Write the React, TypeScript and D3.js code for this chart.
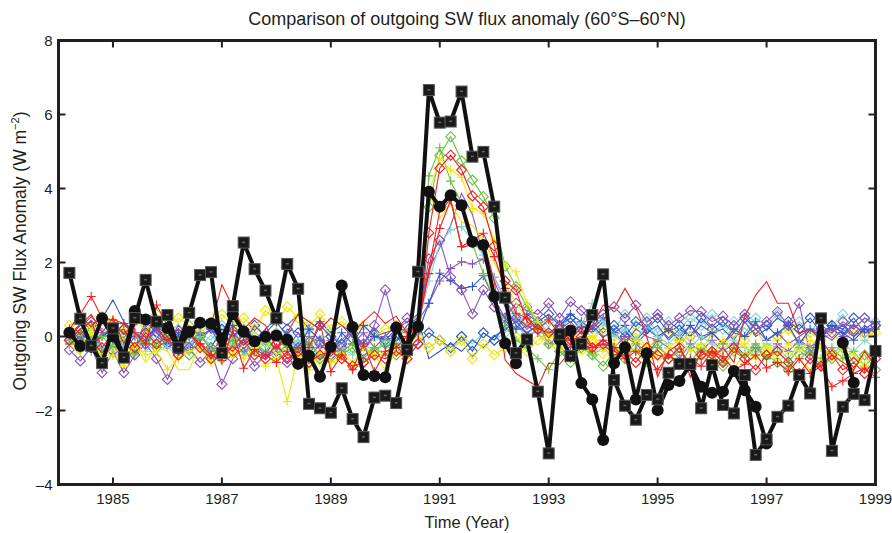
import * as d3 from 'd3';
import { useEffect, useRef } from 'react';

// 72-day means, first sample at 1984.2, one every 0.2 yr
const START_YEAR = 1984.2;
const STEP_YEARS = 0.2;

const xTickYears = [1985, 1987, 1989, 1991, 1993, 1995, 1997, 1999];
const yTickValues = [-4, -2, 0, 2, 4, 6, 8];

// ERBS nonscanner (black squares)
const erbsValues: (number | null)[] = [
  1.72, 0.48, -0.25, -0.72, 0.22,
  -0.57, 0.5, 1.53, 0.4, 0.58,
  -0.3, 0.64, 1.66, 1.74, -0.45,
  0.82, 2.54, 1.82, 1.24, 0.49,
  1.96, 1.29, -1.82, -1.94, -2.06,
  -1.4, -2.23, -2.72, -1.65, -1.6,
  -1.8, -0.36, 1.75, 6.66, 5.78,
  5.81, 6.62, 4.86, 4.99, 3.51,
  1.05, -0.45, -0.08, -1.49, -3.16,
  0.06, -0.53, -0.2, 0.58, 1.68,
  -1.18, -1.87, -2.25, -1.58, -1.7,
  -0.98, -0.74, -0.74, -1.94, -0.77,
  -1.85, -2.08, -1.04, -3.2, -2.78,
  -2.17, -1.87, -1.04, -1.54, 0.49,
  -3.09, -1.9, -1.55, -1.72, -0.39,
];

// second observational record (black circles)
const circleValues: (number | null)[] = [
  0.1, -0.26, -0.28, 0.49, 0.0,
  -0.55, 0.69, 0.46, 0.4, 0.23,
  -0.32, 0.13, 0.37, 0.35, -0.05,
  0.6, 0.13, -0.13, -0.01, 0.03,
  -0.09, -0.74, -0.52, -1.09, -0.28,
  1.38, 0.26, -1.04, -1.07, -1.1,
  0.24, -0.3, 0.27, 3.91, 3.51,
  3.82, 3.55, 2.56, 2.47, 1.08,
  -0.18, -0.72, null, null, null,
  -0.09, 0.16, -1.26, -1.7, -2.8,
  -0.72, -0.29, -1.7, -0.45, -1.99,
  -1.31, -1.2, -0.77, -1.36, -1.52,
  -1.49, -0.93, -1.45, -1.9, -2.89,
  null, null, null, null, null,
  null, -0.17, -1.25, null, null,
];

const redPlus = [
  0.2, 0.6, 1.08, 0.5, 0.45,
  0.35, 0.1, -0.2, 0.85, 0.3,
  -0.3, 0.1, -0.2, -0.5, -0.65,
  0.15, -0.86, -0.35, -0.5, -0.7,
  -0.4, -0.75, -0.3, 0.4, -0.95,
  -0.5, -0.9, -0.2, -0.95, -0.4,
  -0.3, 0.0, 0.35, 1.7, 2.92,
  3.69, 2.43, 2.6, 2.79, 2.16,
  1.3, 0.63, 0.5, 0.2, 0.45,
  0.05, -0.1, 0.25, -0.3, -0.1,
  -0.3, -0.6, -0.4, -0.55, -0.9,
  -0.5, -0.7, -0.6, -0.8, -0.4,
  -0.55, -0.9, -0.75, -0.5, -0.85,
  -0.7, -0.95, -0.6, -1.0, -0.8,
  -1.36, -1.2, -1.0, -0.85, -1.1,
];

const redDiamond = [
  -0.1, 0.2, 0.4, -0.3, 0.1,
  0.2, -0.3, 0.1, -0.2, 0.0,
  -0.5, 0.1, -0.3, -0.6, -0.2,
  -0.4, -0.1, -0.5, -0.6, -0.2,
  -0.6, -0.4, -0.7, -0.5, -0.4,
  -0.6, -0.8, -0.7, -0.5, -0.6,
  -0.4, -0.6, -0.2, 2.8, 4.55,
  4.9, 4.5, 3.8, 3.5, 2.45,
  1.5, 1.26, 0.4, 0.2, 0.1,
  0.2, -0.1, 0.0, -0.3, -0.2,
  -0.5, -0.4, -0.7, -0.3, -0.5,
  -0.6, -0.3, -0.8, -0.5, -0.4,
  -0.7, -0.3, -0.6, -0.9, -0.5,
  -0.4, -0.7, -1.0, -0.6, -0.8,
  -0.5, -0.9, -0.7, -1.0, -0.6,
];

const redLine = [
  0.0, 0.3, 0.6, 0.1, 0.5,
  -0.2, 0.3, 0.5, 0.2, -0.1,
  0.2, 0.0, 0.5, 0.3, 1.4,
  0.8, 0.2, 0.5, 0.3, -0.3,
  0.1, 0.6, 0.4, 0.2, 0.5,
  0.3, 0.1, 0.4, 0.67, 0.35,
  0.55, 0.1, 0.2, 1.8, 3.4,
  3.7, 2.4, 2.5, 2.6, 1.5,
  -0.63, -1.0, -1.18, -1.36, -0.72,
  -0.75, -0.4, -0.2, 0.3, 0.85,
  0.76, 1.3, 0.8, 0.0, -1.09,
  -0.4, -0.2, -1.1, -0.4, -0.6,
  -0.3, -0.7, 0.54, 1.12, 1.48,
  0.9, 0.9, 0.09, 0.2, -0.1,
  -0.5, -0.7, -0.9, -0.4, -0.8,
];

const bluePlus = [
  -0.1, 0.1, -0.2, 0.0, 0.2,
  -0.3, 0.1, -0.1, 0.3, -0.2,
  0.1, -0.3, 0.0, 0.2, -0.1,
  0.3, 0.0, -0.2, 0.1, 0.4,
  0.0, -0.3, 0.2, -0.1, -0.4,
  0.1, -0.2, 0.3, 0.0, -0.1,
  0.2, -0.3, 0.1, 0.9, 1.71,
  1.51, 1.3, 1.35, 1.64, 1.0,
  0.5, 0.2, 0.6, 0.4, 0.1,
  0.3, 0.6, 0.4, 0.2, 0.5,
  0.1, 0.3, -0.1, 0.2, 0.0,
  0.2, -0.1, 0.3, 0.0, 0.1,
  -0.2, 0.2, 0.0, 0.4, -0.1,
  0.1, 0.3, -0.2, 0.2, 0.0,
  0.3, 0.1, -0.1, 0.2, 0.4,
];

const blueDiamond = [
  0.1, -0.2, 0.3, -0.4, 0.0,
  0.2, -0.3, 0.4, 0.1, -0.2,
  -0.1, 0.3, 0.0, -0.3, 0.2,
  0.1, -0.2, 0.3, 0.0, -0.4,
  0.2, 0.1, -0.3, 0.3, 0.0,
  -0.2, 0.2, -0.4, 0.1, -0.1,
  0.0, -0.3, -0.2, 0.1, -0.1,
  -0.3, 0.0, -0.4, 0.1, -0.1,
  0.3, 0.5, 0.2, 0.4, 0.6,
  0.3, 0.5, 0.2, 0.4, 0.1,
  0.3, 0.0, 0.4, 0.2, 0.5,
  0.1, 0.3, 0.0, 0.5, 0.2,
  0.4, 0.1, 0.5, 0.2, 0.3,
  0.0, 0.4, 0.2, 0.5, 0.1,
  0.3, 0.2, 0.5, 0.1, 0.3,
];

const blueLine = [
  0.2, -0.1, 0.3, 0.5, 0.99,
  0.4, 0.1, -0.2, 0.3, 0.0,
  0.2, -0.1, 0.4, 0.1, 0.2,
  0.0, 0.3, -0.1, 0.2, 0.5,
  0.3, 0.6, 0.2, 0.4, 0.1,
  0.3, 0.0, -0.2, 0.2, -0.3,
  -0.1, 0.3, 0.5, -0.6, -0.4,
  -0.2, -0.4, -0.1, -0.3, 0.0,
  0.2, 0.4, 0.1, 0.3, 0.0,
  0.2, -0.1, 0.3, 0.1, 0.4,
  0.0, 0.2, -0.2, 0.1, 0.3,
  -0.1, 0.2, 0.0, 0.3, 0.1,
  0.2, -0.1, 0.4, 0.0, 0.2,
  0.5, 0.3, 0.1, 0.2, -0.1,
  0.1, 0.3, 0.0, 0.2, 0.1,
];

const greenPlus = [
  -0.2, 0.1, -0.4, 0.0, -0.3,
  -0.1, -0.5, 0.2, -0.3, -0.1,
  -0.4, 0.0, -0.2, -0.6, -0.3,
  -0.1, -0.5, -0.2, -0.4, 0.0,
  -0.3, -0.6, -0.2, -0.5, -0.7,
  -0.4, -0.2, -0.6, -0.3, -0.5,
  -0.2, -0.4, 0.5, 4.34, 5.1,
  4.2, 3.6, 2.5, 1.7, 1.0,
  0.3, -0.1, -0.3, -0.6, -0.9,
  -0.4, -0.6, -0.2, -0.5, -0.3,
  -0.6, -0.2, -0.4, -0.7, -0.3,
  -0.5, -0.8, -0.3, -0.6, -0.4,
  -0.7, -0.3, -0.5, -0.2, -0.6,
  -0.4, -0.7, -0.3, -0.5, -0.6,
  -0.3, -0.6, -0.4, -0.8, -0.5,
];

const greenDiamond = [
  -0.1, -0.3, 0.1, -0.5, -0.2,
  0.0, -0.4, -0.1, -0.3, 0.1,
  -0.2, -0.5, 0.0, -0.3, -0.6,
  -0.2, 0.1, -0.4, -0.1, -0.5,
  -0.2, -0.4, -0.1, -0.6, -0.3,
  -0.5, -0.3, -0.7, -0.4, -0.2,
  -0.5, -0.3, 0.2, 3.5, 4.9,
  5.4, 4.75, 4.23, 3.78, 3.2,
  1.9, 1.35, 0.8, 0.3, -0.2,
  -0.4, -0.7, -0.3, -0.5, -0.8,
  -0.4, -0.6, -0.3, -0.5, -0.2,
  -0.6, -0.4, -0.7, -0.3, -0.5,
  -0.8, -0.4, -0.6, -0.3, -0.5,
  -0.7, -0.9, -0.5, -0.4, -0.8,
  -0.6, -0.3, -0.7, -0.5, -0.9,
];

const yellowPlus = [
  0.0, -0.3, 0.2, -0.7, -0.5,
  -0.8, -0.2, -0.5, -0.4, -0.9,
  -0.6, -0.4, -0.3, -0.7, -0.5,
  -0.4, -0.6, -0.3, -0.8, -0.6,
  -1.76, -0.5, -0.9, -0.4, -0.7,
  -0.6, -0.8, -0.3, -0.5, -0.9,
  -0.4, -0.6, 0.3, 3.9, 4.8,
  4.5, 4.3, 3.46, 3.33, 2.6,
  1.93, 1.75, 0.9, 0.4, 0.0,
  -0.2, 0.1, -0.3, 0.0, -0.4,
  -0.2, -0.5, -0.1, -0.3, -0.6,
  -0.3, -0.1, -0.4, -0.2, -0.5,
  -0.1, -0.4, -0.2, -0.6, -0.3,
  -0.5, -0.2, -0.4, -0.1, -0.3,
  -0.6, -0.3, -0.5, -0.8, -0.4,
];

const yellowDiamond = [
  0.3, 0.5, 0.2, 0.55, 0.4,
  0.1, 0.4, 0.3, 0.6, 0.2,
  0.5, 0.3, 0.1, 0.4, 0.6,
  0.3, 0.5, 0.2, 0.7, 0.4,
  0.8, 0.5, 0.3, 0.6, 0.2,
  0.4, 0.1, 0.3, 0.0, 0.2,
  0.3, 0.1, 0.0, -0.3, -0.1,
  -0.4, -0.1, -0.6, -0.2, -0.5,
  -0.3, 0.0, -0.4, -0.1, 0.1,
  -0.2, 0.0, -0.3, -0.1, 0.2,
  0.0, -0.2, 0.1, -0.3, -0.1,
  0.2, -0.1, 0.0, -0.4, 0.1,
  -0.2, 0.1, -0.1, 0.2, -0.3,
  0.0, 0.2, -0.2, 0.1, -0.1,
  0.1, -0.2, 0.2, 0.0, 0.1,
];

const yellowLine = [
  -0.2, -0.5, 0.1, -0.6, -0.3,
  -0.5, -0.2, -0.7, -0.3, -0.4,
  -0.9, -0.9, -0.2, -0.5, -0.3,
  -0.6, -0.2, -0.4, -0.1, -0.5,
  -0.3, -0.6, -0.4, -0.8, -0.5,
  -0.4, -0.7, -0.3, -0.6, -0.4,
  -0.5, -0.2, 0.4, 3.87, 3.2,
  3.6, 3.1, 3.0, 2.6, 2.0,
  1.4, 0.9, 0.5, 0.1, -0.2,
  -0.4, -0.1, -0.5, -0.3, -0.6,
  -0.2, -0.5, -0.3, -0.7, -0.4,
  -0.6, -0.3, -0.8, -0.5, -0.3,
  -0.5, -0.9, -0.4, -0.6, -0.3,
  -0.7, -0.4, -0.6, -0.9, -0.5,
  -0.4, -0.7, -0.9, -0.5, -0.6,
];

const purplePlus = [
  -0.2, 0.0, -0.3, 0.1, -0.1,
  -0.4, 0.0, -0.2, 0.2, -0.3,
  0.0, -0.2, 0.1, -0.4, -0.1,
  -0.3, 0.1, -0.2, -0.5, 0.0,
  -0.2, -0.4, 0.0, -0.3, -0.1,
  -0.4, -0.2, 0.1, -0.3, 0.0,
  0.3, 0.1, 0.4, 0.9, 1.5,
  1.84, 2.02, 1.96, 2.09, 1.6,
  1.0, 0.5, 0.3, 0.1, -0.2,
  0.0, -0.3, -0.1, -0.4, -0.2,
  -0.3, 0.0, -0.2, -0.5, -0.1,
  -0.3, -0.6, -0.2, -0.4, -0.1,
  -0.4, -0.2, -0.5, -0.3, -0.6,
  -0.2, -0.4, -0.1, -0.3, 0.0,
  0.2, 0.0, 0.3, 0.1, 0.2,
];

const purpleDiamond = [
  -0.36, -0.66, -0.3, -0.98, -0.4,
  -0.98, -0.5, -0.2, -0.6, -1.16,
  -0.5, -0.3, -0.7, -0.4, -1.29,
  -0.6, -0.3, -0.8, -0.5, -0.4,
  -0.7, -0.3, -0.6, -0.2, -0.5,
  -0.3, 0.1, -0.2, 0.3, 1.26,
  0.2, 0.5, 0.3, 2.1, 2.6,
  1.6, 1.26, 0.61, 1.26, 0.8,
  0.5, 0.9, 0.7, 0.6, 0.9,
  0.5, 0.94, 0.7, 0.4, 0.6,
  0.8, 0.5, 0.85, 0.4, 0.6,
  0.3, 0.5, 0.7, 0.67, 0.4,
  0.55, 0.3, 0.6, 0.2, 0.4,
  0.67, 0.3, 0.9, -0.5, 0.2,
  0.1, 0.4, 0.2, 0.5, 0.3,
];

const purpleLine = [
  -0.1, 0.2, -0.2, 0.0, 0.3,
  0.1, -0.3, 0.2, 0.0, -0.2,
  0.3, 0.0, -0.1, 0.2, -0.3,
  0.1, -0.2, 0.3, 0.0, -0.1,
  -0.3, 0.1, -0.2, 0.0, -0.4,
  -0.1, 0.2, -0.3, 0.0, 0.1,
  0.2, 0.4, 0.6, 1.8, 2.4,
  3.0, 3.87, 3.3, 2.2, 1.5,
  0.8, 0.3, 0.1, 0.3, 0.0,
  0.2, 0.4, 0.1, 0.3, 0.0,
  0.1, -0.2, 0.2, 0.0, -0.1,
  0.2, 0.0, 0.3, -0.1, 0.1,
  -0.2, 0.1, 0.0, 0.2, -0.1,
  0.1, -0.2, 0.0, 0.2, 0.1,
  -0.1, 0.2, 0.0, 0.3, 0.1,
];

const cyanPlus = [
  -0.1, -0.4, 0.0, -0.3, -0.5,
  -0.2, 0.1, -0.4, -0.1, -0.3,
  -0.5, -0.2, 0.0, -0.3, -0.6,
  -0.2, -0.4, -0.1, -0.5, -0.3,
  -0.4, -0.1, -0.3, -0.6, -0.2,
  -0.3, -0.5, -0.2, -0.4, -0.1,
  -0.2, 0.0, 0.3, 1.5, 2.5,
  2.88, 2.97, 2.6, 2.2, 1.6,
  1.0, 0.6, 0.3, 0.4, 0.1,
  0.2, -0.1, 0.3, 0.9, 0.4,
  0.0, 0.2, -0.1, 0.3, 0.0,
  -0.2, 0.1, -0.3, 0.0, -0.2,
  -0.4, -0.1, -0.3, -0.5, -0.2,
  -0.3, -0.6, -0.2, -0.4, -0.3,
  -0.5, -0.2, -0.4, -0.1, -0.3,
];

const cyanDiamond = [
  0.0, 0.2, -0.2, 0.1, -0.3,
  0.1, -0.1, 0.3, 0.0, -0.2,
  0.2, -0.3, 0.1, -0.1, 0.3,
  -0.1, 0.2, 0.0, -0.3, 0.1,
  0.0, -0.2, 0.2, -0.1, 0.1,
  -0.2, 0.1, -0.4, 0.0, -0.2,
  -0.3, -0.1, 0.0, -0.3, -0.1,
  -0.4, 0.0, -0.2, 0.1, -0.1,
  0.1, 0.3, 0.0, 0.2, 0.4,
  0.2, 0.5, 0.3, 0.1, 0.4,
  0.2, 0.6, 0.3, 0.5, 0.1,
  0.4, 0.2, 0.5, 0.3, 0.6,
  0.2, 0.4, 0.1, 0.5, 0.3,
  0.6, 0.2, 0.4, 0.1, 0.5,
  0.3, 0.6, 0.2, 0.5, 0.4,
];

type Marker = 'plus' | 'diamond' | 'none';
interface ModelSeries {
  values: (number | null)[];
  color: string;
  marker: Marker;
}

const RED = '#ef2020';
const BLUE = '#3358c4';
const GREEN = '#6cc040';
const YELLOW = '#eeea00';
const PURPLE = '#8a52b6';
const CYAN = '#84d4d2';

const models: ModelSeries[] = [
  { values: cyanDiamond, color: CYAN, marker: 'diamond' },
  { values: blueDiamond, color: BLUE, marker: 'diamond' },
  { values: blueLine, color: BLUE, marker: 'none' },
  { values: yellowDiamond, color: YELLOW, marker: 'diamond' },
  { values: purpleLine, color: PURPLE, marker: 'none' },
  { values: purplePlus, color: PURPLE, marker: 'plus' },
  { values: bluePlus, color: BLUE, marker: 'plus' },
  { values: cyanPlus, color: CYAN, marker: 'plus' },
  { values: purpleDiamond, color: PURPLE, marker: 'diamond' },
  { values: greenPlus, color: GREEN, marker: 'plus' },
  { values: greenDiamond, color: GREEN, marker: 'diamond' },
  { values: yellowLine, color: YELLOW, marker: 'none' },
  { values: yellowPlus, color: YELLOW, marker: 'plus' },
  { values: redLine, color: RED, marker: 'none' },
  { values: redPlus, color: RED, marker: 'plus' },
  { values: redDiamond, color: RED, marker: 'diamond' },
];

interface Pt { t: number; v: number | null; }
const toPoints = (vals: (number | null)[]): Pt[] =>
  vals.map((v, i) => ({ t: START_YEAR + STEP_YEARS * i, v }));

const FONT = '"Liberation Sans", Arial, Helvetica, sans-serif';

const App = () => {
  const svgRef = useRef<SVGSVGElement | null>(null);

  useEffect(() => {
    if (!svgRef.current) return;
    const width = 892;
    const height = 533;
    const left = 58.5, right = 875.5, top = 40.5, bottom = 484.5;

    const svg = d3.select(svgRef.current)
      .html('')
      .attr('width', width)
      .attr('height', height);

    const x = d3.scaleLinear().domain([1984, 1999]).range([left, right]);
    const y = d3.scaleLinear().domain([-4, 8]).range([bottom, top]);

    const line = d3.line<Pt>()
      .defined(d => d.v !== null)
      .x(d => x(d.t))
      .y(d => y(d.v as number));

    const plot = svg.append('g');

    // model runs: thin lines with markers
    models.forEach(s => {
      const pts = toPoints(s.values);
      plot.append('path')
        .datum(pts)
        .attr('fill', 'none')
        .attr('stroke', s.color)
        .attr('stroke-width', 1.1)
        .attr('d', line);

      if (s.marker === 'none') return;
      const r = s.marker === 'plus' ? 4.5 : 5;
      const shape = s.marker === 'plus'
        ? `M${-r},0H${r}M0,${-r}V${r}`
        : `M0,${-r}L${r},0L0,${r}L${-r},0Z`;
      plot.append('g')
        .selectAll('path')
        .data(pts.filter(d => d.v !== null))
        .enter().append('path')
        .attr('transform', d => `translate(${x(d.t)},${y(d.v as number)})`)
        .attr('d', shape)
        .attr('fill', 'none')
        .attr('stroke', s.color)
        .attr('stroke-width', 1.1);
    });

    // circles record
    const circPts = toPoints(circleValues);
    plot.append('path')
      .datum(circPts)
      .attr('fill', 'none')
      .attr('stroke', '#111')
      .attr('stroke-width', 4)
      .attr('stroke-linejoin', 'round')
      .attr('d', line);
    plot.append('g')
      .selectAll('circle')
      .data(circPts.filter(d => d.v !== null))
      .enter().append('circle')
      .attr('cx', d => x(d.t))
      .attr('cy', d => y(d.v as number))
      .attr('r', 6)
      .attr('fill', '#111');

    // ERBS squares (line bridges missing samples)
    const sqPts = toPoints(erbsValues).filter(d => d.v !== null);
    plot.append('path')
      .datum(sqPts)
      .attr('fill', 'none')
      .attr('stroke', '#111')
      .attr('stroke-width', 4)
      .attr('stroke-linejoin', 'round')
      .attr('d', line);
    const sq = plot.append('g')
      .selectAll('g')
      .data(sqPts)
      .enter().append('g')
      .attr('transform', d => `translate(${x(d.t)},${y(d.v as number)})`);
    sq.append('rect')
      .attr('x', -5.5).attr('y', -5.5)
      .attr('width', 11).attr('height', 11)
      .attr('fill', '#1a1a1a')
      .attr('stroke', '#555')
      .attr('stroke-width', 1);
    sq.append('rect')
      .attr('x', -1.5).attr('y', -1)
      .attr('width', 3).attr('height', 1.5)
      .attr('fill', '#666');

    // frame
    svg.append('rect')
      .attr('x', left).attr('y', top)
      .attr('width', right - left).attr('height', bottom - top)
      .attr('fill', 'none')
      .attr('stroke', '#231f20')
      .attr('stroke-width', 3);

    const ticks = svg.append('g').attr('stroke', '#231f20').attr('stroke-width', 2);
    xTickYears.forEach(t => {
      ticks.append('line').attr('x1', x(t)).attr('x2', x(t)).attr('y1', bottom).attr('y2', bottom - 7);
      ticks.append('line').attr('x1', x(t)).attr('x2', x(t)).attr('y1', top).attr('y2', top + 7);
    });
    yTickValues.forEach(v => {
      ticks.append('line').attr('x1', left).attr('x2', left + 7).attr('y1', y(v)).attr('y2', y(v));
      ticks.append('line').attr('x1', right).attr('x2', right - 7).attr('y1', y(v)).attr('y2', y(v));
    });

    const labels = svg.append('g')
      .attr('font-family', FONT)
      .attr('font-size', 15)
      .attr('fill', '#231f20');

    labels.selectAll('.xt')
      .data(xTickYears)
      .enter().append('text')
      .attr('x', d => x(d))
      .attr('y', bottom + 19)
      .attr('text-anchor', 'middle')
      .text(d => String(d));

    labels.selectAll('.yt')
      .data(yTickValues)
      .enter().append('text')
      .attr('x', left - 6)
      .attr('y', d => y(d) + 5)
      .attr('text-anchor', 'end')
      .text(d => (d < 0 ? '\u2013' + Math.abs(d) : String(d)));

    labels.append('text')
      .attr('x', 467)
      .attr('y', 528)
      .attr('font-size', 16.5)
      .attr('text-anchor', 'middle')
      .text('Time (Year)');

    labels.append('text')
      .attr('x', 467)
      .attr('y', 25)
      .attr('font-size', 18)
      .attr('text-anchor', 'middle')
      .text('Comparison of outgoing SW flux anomaly (60\u00b0S\u201360\u00b0N)');

    const yl = labels.append('text')
      .attr('transform', `translate(26,251) rotate(-90)`)
      .attr('font-size', 17.5)
      .attr('text-anchor', 'middle');
    yl.append('tspan').text('Outgoing SW Flux Anomaly (W m');
    yl.append('tspan').attr('dy', -7).attr('font-size', 11).text('\u22122');
    yl.append('tspan').attr('dy', 7).text(')');
  }, []);

  return <svg ref={svgRef} style={{ position: 'absolute', left: 0, top: 0, background: '#fff' }} />;
};

export default App;
